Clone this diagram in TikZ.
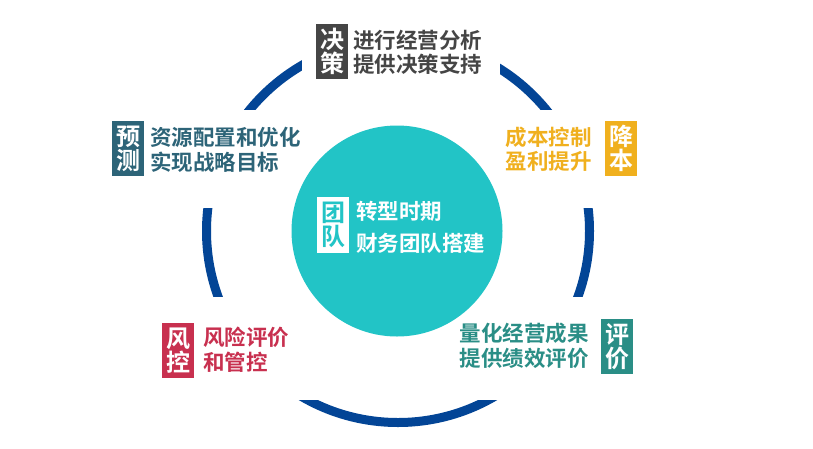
\documentclass[tikz,border=0pt]{standalone}
\usepackage{fontspec}
\newfontfamily\cjk{Noto Sans CJK SC Bold}
\definecolor{ringblue}{HTML}{034596}
\definecolor{teal}{HTML}{22C4C6}
\definecolor{dgray}{HTML}{454545}
\definecolor{slate}{HTML}{2D6478}
\definecolor{orng}{HTML}{F0B01E}
\definecolor{tealg}{HTML}{2A8E86}
\definecolor{redc}{HTML}{C8304F}
\begin{document}
\begin{tikzpicture}[x=1pt,y=-1pt,
  tag/.style={fill=#1,text=white,font=\cjk\fontsize{24}{26}\selectfont,inner sep=0pt,minimum width=32pt,minimum height=55pt,text width=32pt,align=center},
  txt/.style={text=#1,font=\cjk\fontsize{21.5}{25}\selectfont,inner sep=0pt}]
\path[use as bounding box,fill=white] (0,0) rectangle (813,448);
\draw[ringblue,line width=9pt] (398,231) circle (191.5);
\fill[white] (0,110) rectangle (813,208);
\fill[white] (0,297) rectangle (813,400);
\fill[white] (302,0) rectangle (500,90);
\node[circle,fill=teal,minimum size=211pt,inner sep=0pt] (c) at (397,231) {};
\node[tag=white,text=teal,minimum height=56pt] (tc) at (333,225) {团\\[-2pt]队};
\node[txt=white,anchor=west] (t1) at (356,211) {转型时期};
\node[txt=white,anchor=west] (t2) at (356,243) {财务团队搭建};
% top
\node[tag=dgray] (a) at (332,51.5) {决\\[-2pt]策};
\node[txt=dgray,anchor=west] (a1) at (353,40) {进行经营分析};
\node[txt=dgray,anchor=west] (a2) at (353,64) {提供决策支持};
% left upper
\node[tag=slate] (b) at (128,148.5) {预\\[-2pt]测};
\node[txt=slate,anchor=west] (b1) at (150,137) {资源配置和优化};
\node[txt=slate,anchor=west] (b2) at (150,162) {实现战略目标};
% right upper
\node[tag=orng] (d) at (621,148.5) {降\\[-2pt]本};
\node[txt=orng,anchor=east] (d1) at (592,137) {成本控制};
\node[txt=orng,anchor=east] (d2) at (592,161) {盈利提升};
% right lower
\node[tag=tealg] (e) at (617,346.5) {评\\[-2pt]价};
\node[txt=tealg,anchor=east] (e1) at (589,333) {量化经营成果};
\node[txt=tealg,anchor=east] (e2) at (589,358) {提供绩效评价};
% left lower
\node[tag=redc] (f) at (178,350.5) {风\\[-2pt]控};
\node[txt=redc,anchor=west] (f1) at (203,337) {风险评价};
\node[txt=redc,anchor=west] (f2) at (203,362) {和管控};
\end{tikzpicture}
\end{document}
